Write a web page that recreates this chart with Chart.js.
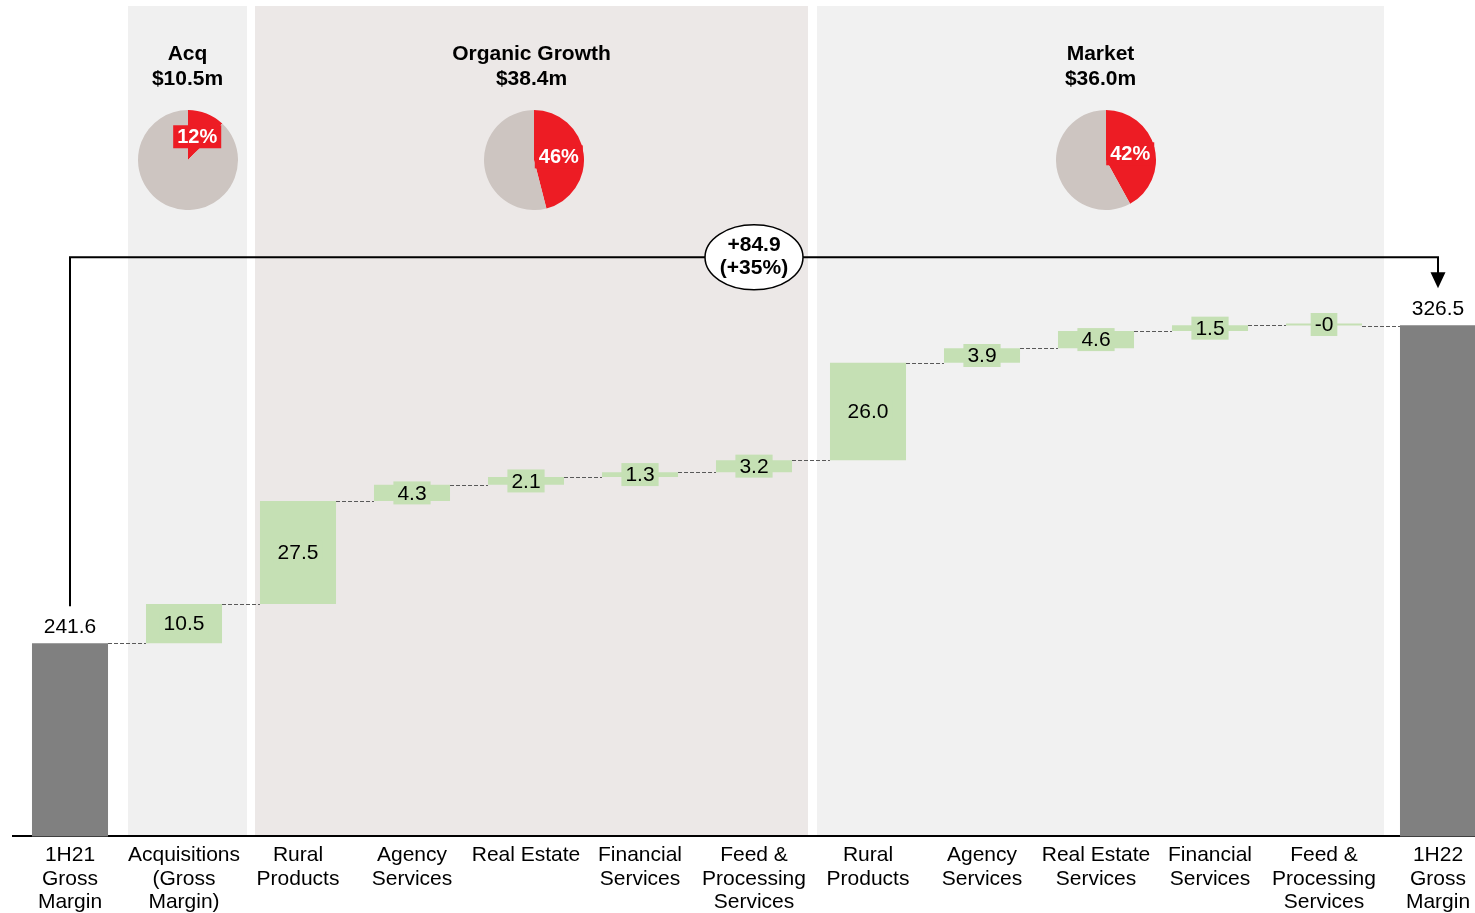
<!DOCTYPE html>
<html>
<head>
<meta charset="utf-8">
<script src="https://cdn.jsdelivr.net/npm/chart.js"></script>
<style>
  html, body { margin: 0; padding: 0; background: #fff; overflow: hidden; }
  #wrap { position: relative; width: 1475px; height: 913px; overflow: hidden; }
  #main { position: absolute; left: 0; top: 0; }
  .pie { position: absolute; }
</style>
</head>
<body>
<div id="wrap"><canvas id="main" width="1495" height="921"></canvas></div>
<script>
// Chart data
const categories = [
  ["1H21", "Gross", "Margin"],
  ["Acquisitions", "(Gross", "Margin)"],
  ["Rural", "Products"],
  ["Agency", "Services"],
  ["Real Estate"],
  ["Financial", "Services"],
  ["Feed &", "Processing", "Services"],
  ["Rural", "Products"],
  ["Agency", "Services"],
  ["Real Estate", "Services"],
  ["Financial", "Services"],
  ["Feed &", "Processing", "Services"],
  ["1H22", "Gross", "Margin"],
];
const values = [241.6, 10.5, 27.5, 4.3, 2.1, 1.3, 3.2, 26.0, 3.9, 4.6, 1.5, -0.04, 326.5];
const totalFlags = [true, false, false, false, false, false, false, false, false, false, false, false, true];
const groupNames = ["Acq", "Organic Growth", "Market"];
const groupStart = [1, 2, 7];
const groupEnd = [1, 6, 11];
const groupShares = [12, 46, 42];

const FONT = "'Liberation Sans', Arial, sans-serif";
const RED = "#ed1c24";
const PIE_GREY = "#cdc5c1";
const GREEN = "#c5e0b4";
const GREY_BAR = "#808080";

// build floating bars from the values
let running = 0;
const floating = values.map((v, i) => {
  if (totalFlags[i]) {
    running = v;
    return [0, v];
  }
  const start = running;
  running = running + v;
  return [start, running];
});
const levels = floating.map((d) => d[1]);

const groupTotals = groupStart.map((s, g) => {
  let t = 0;
  for (let i = s; i <= groupEnd[g]; i++) t += values[i];
  return t;
});

function fmt(v) {
  if (Math.abs(v) < 0.05) return v < 0 ? "-0" : "0";
  return v.toFixed(1);
}

// region styling
const regionColors = ["#f0f0f0", "#ece8e7", "#f1f1f1"];
const regionInsets = [[1, 6], [14, -3], [6, 3]];

function regionBox(chart, g) {
  const x = chart.scales.x;
  const w = x.getPixelForValue(1) - x.getPixelForValue(0);
  const left = x.getPixelForValue(groupStart[g]) - w / 2 + regionInsets[g][0];
  const right = x.getPixelForValue(groupEnd[g]) + w / 2 + regionInsets[g][1];
  return { left, right, center: (left + right) / 2 };
}

const regionsPlugin = {
  id: "regions",
  beforeDraw(chart) {
    const ctx = chart.ctx;
    const area = chart.chartArea;
    ctx.save();
    groupNames.forEach((name, g) => {
      const r = regionBox(chart, g);
      ctx.fillStyle = regionColors[g];
      ctx.fillRect(r.left, area.top + 6, r.right - r.left, area.bottom - area.top - 6);
      ctx.fillStyle = "#000";
      ctx.font = "bold 21px " + FONT;
      ctx.textAlign = "center";
      ctx.textBaseline = "middle";
      ctx.fillText(name, r.center, area.top + 54);
      ctx.fillText("$" + groupTotals[g].toFixed(1) + "m", r.center, area.top + 79);
    });
    ctx.restore();
  },
};

const waterfallPlugin = {
  id: "waterfall",
  afterDatasetsDraw(chart) {
    const ctx = chart.ctx;
    const meta = chart.getDatasetMeta(0);
    const y = chart.scales.y;
    ctx.save();

    // dashed connectors
    ctx.strokeStyle = "#595959";
    ctx.lineWidth = 1;
    ctx.setLineDash([4, 2]);
    for (let i = 0; i < meta.data.length - 1; i++) {
      const a = meta.data[i];
      const b = meta.data[i + 1];
      const ly = Math.round(y.getPixelForValue(levels[i])) + 0.5;
      ctx.beginPath();
      ctx.moveTo(a.x + a.width / 2, ly);
      ctx.lineTo(b.x - b.width / 2, ly);
      ctx.stroke();
    }
    ctx.setLineDash([]);

    // value labels
    ctx.font = "21px " + FONT;
    ctx.textAlign = "center";
    ctx.textBaseline = "middle";
    meta.data.forEach((el, i) => {
      const txt = fmt(values[i]);
      if (totalFlags[i]) {
        ctx.fillStyle = "#000";
        ctx.fillText(txt, el.x, Math.min(el.y, el.base) - 16);
      } else {
        const mid = (el.y + el.base) / 2;
        const tw = ctx.measureText(txt).width;
        ctx.fillStyle = GREEN;
        ctx.fillRect(el.x - tw / 2 - 4, mid - 11.5, tw + 8, 23);
        ctx.fillStyle = "#000";
        ctx.fillText(txt, el.x, mid + 1);
      }
    });

    // total change bracket
    const first = meta.data[0];
    const last = meta.data[meta.data.length - 1];
    const topY = Math.min(last.y, last.base) - 68;
    const startY = Math.min(first.y, first.base) - 37;
    const endY = Math.min(last.y, last.base) - 37;
    ctx.strokeStyle = "#000";
    ctx.lineWidth = 2;
    ctx.beginPath();
    ctx.moveTo(first.x, startY);
    ctx.lineTo(first.x, topY);
    ctx.lineTo(last.x, topY);
    ctx.lineTo(last.x, endY - 14);
    ctx.stroke();
    ctx.fillStyle = "#000";
    ctx.beginPath();
    ctx.moveTo(last.x - 7.5, endY - 16);
    ctx.lineTo(last.x + 7.5, endY - 16);
    ctx.lineTo(last.x, endY);
    ctx.closePath();
    ctx.fill();

    const cx = (first.x + last.x) / 2;
    ctx.beginPath();
    ctx.ellipse(cx, topY, 49, 32.5, 0, 0, Math.PI * 2);
    ctx.fillStyle = "#fff";
    ctx.fill();
    ctx.lineWidth = 1.5;
    ctx.stroke();
    const change = values[values.length - 1] - values[0];
    const pct = Math.round((change / values[0]) * 100);
    ctx.fillStyle = "#000";
    ctx.font = "bold 21px " + FONT;
    ctx.fillText("+" + change.toFixed(1), cx, topY - 12);
    ctx.fillText("(+" + pct + "%)", cx, topY + 11);
    ctx.restore();
  },
};

const mainChart = new Chart(document.getElementById("main"), {
  type: "bar",
  data: {
    labels: categories,
    datasets: [
      {
        data: floating,
        backgroundColor: values.map((v, i) => (totalFlags[i] ? GREY_BAR : GREEN)),
        borderWidth: 0,
        categoryPercentage: 1,
        barPercentage: 0.667,
        minBarLength: 2,
      },
    ],
  },
  options: {
    responsive: false,
    animation: false,
    events: [],
    layout: { padding: { left: 13, right: 0, top: 0, bottom: 0 } },
    plugins: {
      legend: { display: false },
      tooltip: { enabled: false },
    },
    scales: {
      x: {
        grid: { display: false, drawTicks: false },
        border: { display: true, color: "#000", width: 2 },
        ticks: {
          color: "#000",
          font: { family: FONT, size: 21, lineHeight: 1.12 },
          padding: 7,
          autoSkip: false,
          maxRotation: 0,
        },
      },
      y: { display: false, min: 190, max: 413.4 },
    },
  },
  plugins: [regionsPlugin, waterfallPlugin],
});

// small pie charts above each group
const pieShift = [0, 2.5, 5.5];

const pieLabelPlugin = {
  id: "pieLabel",
  afterDatasetsDraw(chart) {
    const ctx = chart.ctx;
    const arc = chart.getDatasetMeta(0).data[0];
    const share = chart.data.datasets[0].data[0];
    const pos = arc.tooltipPosition();
    const txt = share + "%";
    ctx.save();
    ctx.font = "bold 20px " + FONT;
    const tw = ctx.measureText(txt).width;
    ctx.fillStyle = RED;
    ctx.fillRect(pos.x - tw / 2 - 4, pos.y - 11.5, tw + 8, 23);
    if (share < 20) {
      ctx.beginPath();
      ctx.moveTo(arc.x, pos.y + 11);
      ctx.lineTo(arc.x + 12, pos.y + 11);
      ctx.lineTo(arc.x, arc.y - 1);
      ctx.closePath();
      ctx.fill();
    }
    ctx.fillStyle = "#fff";
    ctx.textAlign = "center";
    ctx.textBaseline = "middle";
    ctx.fillText(txt, pos.x, pos.y + 1);
    ctx.restore();
  },
};

groupShares.forEach((share, g) => {
  const r = regionBox(mainChart, g);
  const cv = document.createElement("canvas");
  cv.width = 100;
  cv.height = 100;
  cv.className = "pie";
  cv.style.left = r.center + pieShift[g] - 50 + "px";
  cv.style.top = "110px";
  document.getElementById("wrap").appendChild(cv);
  new Chart(cv, {
    type: "pie",
    data: {
      labels: ["share", "rest"],
      datasets: [
        {
          data: [share, 100 - share],
          backgroundColor: [RED, PIE_GREY],
          borderWidth: 0,
          hoverOffset: 0,
        },
      ],
    },
    options: {
      responsive: false,
      animation: false,
      events: [],
      plugins: { legend: { display: false }, tooltip: { enabled: false } },
    },
    plugins: [pieLabelPlugin],
  });
});
</script>
</body>
</html>
